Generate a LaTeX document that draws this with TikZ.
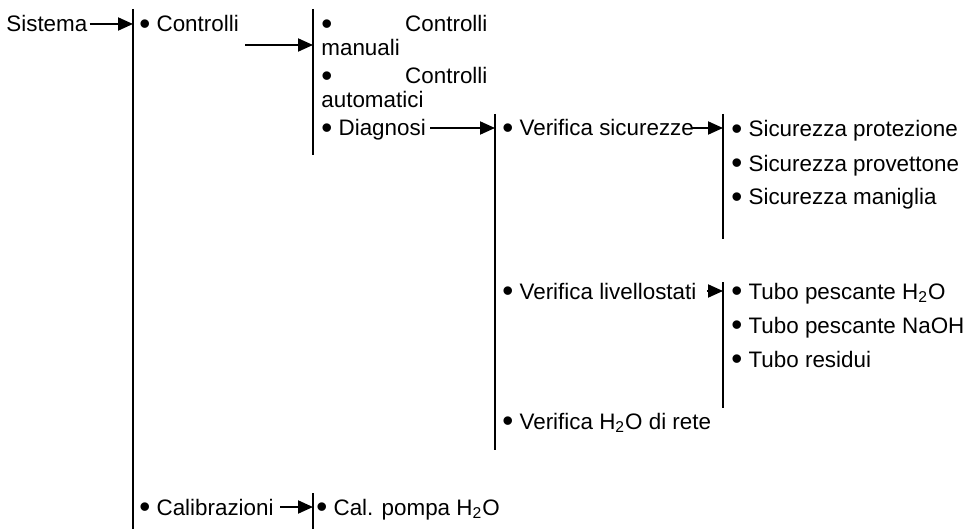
\documentclass[tikz,border=0pt]{standalone}
\usepackage{fontspec}
\setmainfont{Liberation Sans}
\usetikzlibrary{positioning}
\usetikzlibrary{arrows.meta}

\newcommand{\blt}{\raisebox{-1.3pt}{\scalebox{1.4}{\textbullet}}}

\tikzset{
  item/.style={anchor=base west, inner sep=0pt, text height=8pt, text depth=0pt,
    font=\fontsize{11.2}{13}\selectfont},
  bar/.style={line width=1pt},
  arr/.style={-{Triangle[length=7.5pt, width=6.5pt]}, line width=1pt},
}

\begin{document}
\begin{tikzpicture}[x=0.5pt, y=-0.5pt]
  \useasboundingbox (0,0) rectangle (972,529);

  % brackets
  \coordinate (b1_top) at (133,9);   \coordinate (b1_bot) at (133,529);
  \coordinate (b2_top) at (313,9);   \coordinate (b2_bot) at (313,155);
  \coordinate (b3_top) at (495,114); \coordinate (b3_bot) at (495,450);
  \coordinate (b4_top) at (723,114); \coordinate (b4_bot) at (723,239);
  \coordinate (b5_top) at (723,282); \coordinate (b5_bot) at (723,408);
  \coordinate (b6_top) at (313,493); \coordinate (b6_bot) at (313,529);
  \draw[bar] (b1_top) -- (b1_bot);
  \draw[bar] (b2_top) -- (b2_bot);
  \draw[bar] (b3_top) -- (b3_bot);
  \draw[bar] (b4_top) -- (b4_bot);
  \draw[bar] (b5_top) -- (b5_bot);
  \draw[bar] (b6_top) -- (b6_bot);

  \node[item] (sistema) at (6,32) {Sistema};
  \node[item] (controlli) at (139,32) {\blt\ Controlli};
  \node[item] (calibrazioni) at (139,515) {\blt\ Calibrazioni};

  \node[item, text width=83pt] (manuali) at (321,32) {\blt\hfill Controlli};
  \node[item] (manuali_2) at (321,56) {manuali};
  \node[item, text width=83pt] (automatici) at (321,84) {\blt\hfill Controlli};
  \node[item] (automatici_2) at (321,108) {automatici};
  \node[item] (diagnosi) at (321,136) {\blt\ Diagnosi};
  \node[item] (pompa) at (316,515) {\blt\ Cal. pompa H\textsubscript{2}O};

  \node[item] (sicurezze) at (502,136) {\blt\ Verifica sicurezze};
  \node[item] (livellostati) at (502,299) {\blt\ Verifica livellostati};
  \node[item] (rete) at (502,429) {\blt\ Verifica H\textsubscript{2}O di rete};

  \node[item] (protezione) at (731,137) {\blt\ Sicurezza protezione};
  \node[item] (provettone) at (731,171) {\blt\ Sicurezza provettone};
  \node[item] (maniglia) at (731,205) {\blt\ Sicurezza maniglia};

  \node[item] (pescante_h2o) at (731,299) {\blt\ Tubo pescante H\textsubscript{2}O};
  \node[item] (pescante_naoh) at (731,333) {\blt\ Tubo pescante NaOH};
  \node[item] (residui) at (731,367) {\blt\ Tubo residui};

  % arrows
  \coordinate (to_manuali) at (245,45);
  \draw[arr] ([xshift=1pt]sistema.east) -- (sistema.east -| b1_top);
  \draw[arr] (to_manuali) -- (to_manuali -| b2_top);
  \draw[arr] ([xshift=2pt]diagnosi.east) -- (diagnosi.east -| b3_top);
  \draw[arr] ([xshift=-1pt]sicurezze.east) -- (sicurezze.east -| b4_top);
  \draw[arr] ([xshift=5pt]livellostati.east) -- (livellostati.east -| b5_top);
  \draw[arr] ([xshift=3pt]calibrazioni.east) -- (calibrazioni.east -| b6_top);
\end{tikzpicture}
\end{document}
